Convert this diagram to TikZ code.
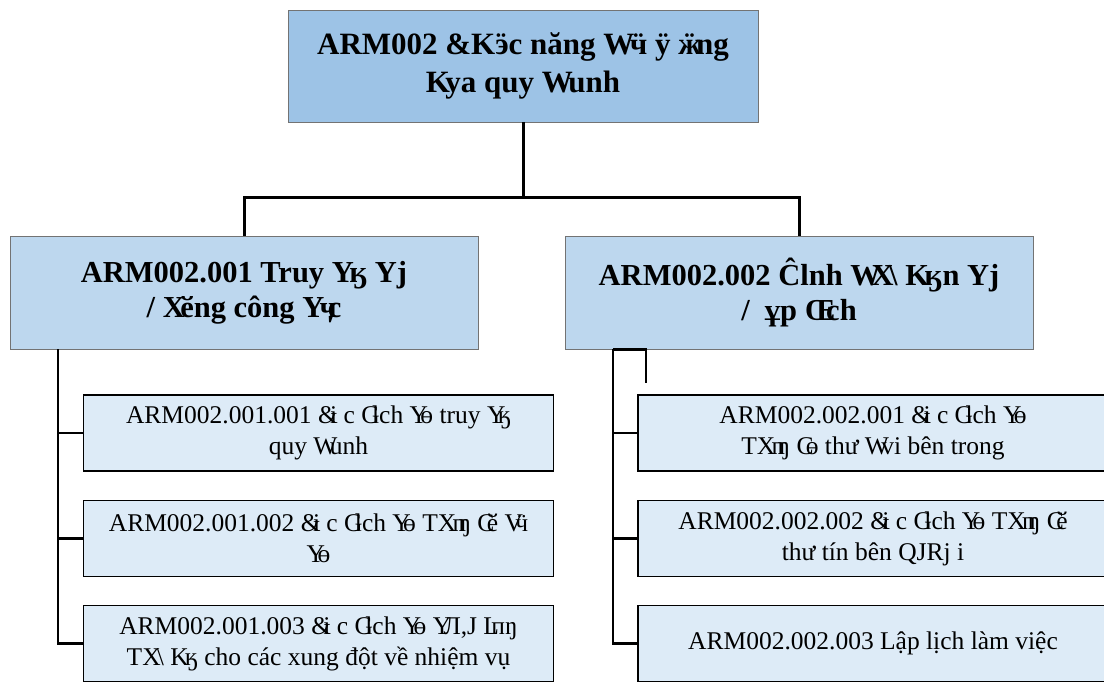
\documentclass[tikz,border=0pt]{standalone}
\usepackage{fontspec}
\setmainfont{Liberation Serif}
\newcommand\ov{\kern-0.3em}
\newcommand\ovs{\kern-0.15em}
\begin{document}
\begin{tikzpicture}[x=1pt,y=-1pt,
  topbox/.style={draw=black!55, line width=0.8pt, fill=topblue, minimum width=470pt, minimum height=112pt, align=center, font=\bfseries\fontsize{31}{38}\selectfont, inner sep=0pt},
  midbox/.style={draw=black!55, line width=0.8pt, fill=midblue, minimum width=468pt, minimum height=113pt, align=center, font=\bfseries\fontsize{30.5}{35}\selectfont, inner sep=0pt},
  leafbox/.style={draw=black, line width=1.8pt, fill=leafblue, minimum width=470pt, minimum height=76pt, align=center, font=\fontsize{25.5}{31}\selectfont, inner sep=0pt},
  conn/.style={draw=black, line width=3pt},
  leafconn/.style={draw=black, line width=2.4pt}
]
\definecolor{topblue}{HTML}{9DC3E6}
\definecolor{midblue}{HTML}{BDD7EE}
\definecolor{leafblue}{HTML}{DDEBF7}
\useasboundingbox (0,0) rectangle (1104,682);

\node[topbox] (top) at (523,66) {ARM002 \&Kӭc năng W\ovs ӵ ÿ ӝ\ovs ng\\K\ovs ya quy W\ovs unh};
\node[midbox] (m1) at (244,292.5) {ARM002.001 Truy Y\ovs ӄ Yj\\/ X\ovs ӗng công Y\ovs ӌ\ov c};
\node[midbox] (m2) at (799,292.5) {ARM002.002 Ĉlnh W\ov X\ovs\textbackslash{} K\ovs ӄn Yj\\/ \ ұp Œ\ov ch};

\node[leafbox] (l1) at (318.5,433) {ARM002.001.001 \&\ov i c G\ov lch Y\ov ө truy Y\ov ӄ\\quy W\ov unh};
\node[leafbox] (l2) at (318.5,538.5) {ARM002.001.002 \&\ov i c G\ov lch Y\ov ө TX\ovs п\ov ŋ C\ov ӗ V\ov ӵ\\Y\ov ө};
\node[leafbox] (l3) at (318.5,643.5) {ARM002.001.003 \&\ov i c G\ov lch Y\ov ө Y\ov Л,J L\ov пŋ\\TX\ovs\textbackslash{} K\ovs ӄ cho các xung đột về nhiệm vụ};

\node[leafbox] (r1) at (873,433) {ARM002.002.001 \&\ov i c G\ov lch Y\ov ө\\TX\ovs п\ov ŋ C\ov ө thư W\ov vi bên trong};
\node[leafbox] (r2) at (873,538.5) {ARM002.002.002 \&\ov i c G\ov lch Y\ov ө TX\ovs п\ov ŋ C\ov ӗ\\thư tín bên QJRj i};
\node[leafbox] (r3) at (873,643.5) {ARM002.002.003 Lập lịch làm việc};

\coordinate (j) at (523,198);
\coordinate (rk) at (646,383);
\draw[conn] (top.south) -- (j);
\draw[conn] (j) -| (m1.north);
\draw[conn] (j) -| (m2.north);

\draw[leafconn] ([xshift=-186pt]m1.south) |- (l1.west);
\draw[leafconn] ([xshift=-186pt]m1.south) |- (l2.west);
\draw[leafconn] ([xshift=-186pt]m1.south) |- (l3.west);

\draw[leafconn] ([xshift=-186pt]m2.south) |- (r1.west);
\draw[leafconn] ([xshift=-186pt]m2.south) |- (r2.west);
\draw[leafconn] ([xshift=-186pt]m2.south) |- (r3.west);
\draw[leafconn] ([xshift=-186pt]m2.south) -| (rk);
\end{tikzpicture}
\end{document}
